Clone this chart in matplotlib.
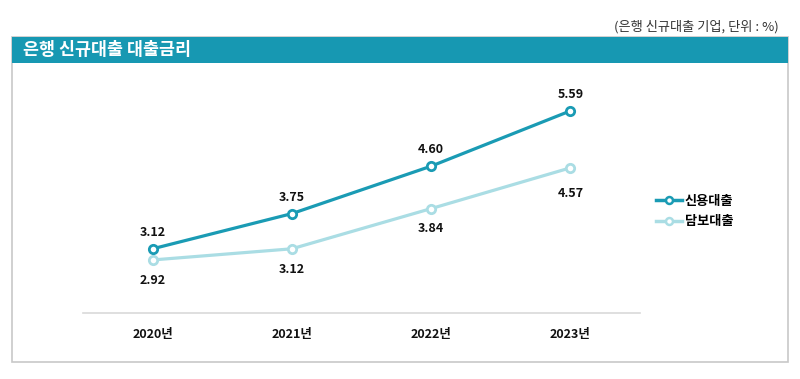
import matplotlib.pyplot as plt
from matplotlib.patches import Rectangle
from matplotlib.lines import Line2D

plt.rcParams['font.family'] = ['Noto Sans CJK KR', 'DejaVu Sans']

years = ['2020년', '2021년', '2022년', '2023년']
credit = [3.12, 3.75, 4.60, 5.59]
secured = [2.92, 3.12, 3.84, 4.57]
names = ['신용대출', '담보대출']

dark = '#1a9bb4'
light = '#aadde4'

fig = plt.figure(figsize=(8, 3.79), dpi=100)
W, H = 800, 379

def fx(px):
    return px / W

def fy(py):
    return 1 - py / H

# outer frame
fig.patches.append(Rectangle((fx(12), fy(362)), fx(788) - fx(12), fy(37) - fy(362),
                             transform=fig.transFigure, fill=False, edgecolor='#c8c8c8', lw=1.2))
# header bar
fig.patches.append(Rectangle((fx(12), fy(63)), fx(788) - fx(12), fy(37) - fy(63),
                             transform=fig.transFigure, facecolor='#1798b2', edgecolor='none'))
fig.text(fx(23), fy(50), '은행 신규대출 대출금리', color='white', fontsize=12.5,
         fontweight='bold', va='center', ha='left')
fig.text(fx(779), fy(27), '(은행 신규대출 기업, 단위 : %)', color='#333333', fontsize=9.5,
         va='center', ha='right')

ax = fig.add_axes([fx(83), fy(313), fx(640) - fx(83), fy(88) - fy(313)])
x = range(len(years))
ax.plot(x, secured, color=light, lw=2.3, marker='o', ms=6, mfc='white', mec=light, mew=2)
ax.plot(x, credit, color=dark, lw=2.3, marker='o', ms=6, mfc='white', mec=dark, mew=2)

for i, v in enumerate(credit):
    ax.annotate(f'{v:.2f}', (i, v), xytext=(0, 7), textcoords='offset points',
                ha='center', va='bottom', fontsize=9, fontweight='bold', color='#111111')
for i, v in enumerate(secured):
    off = -14 if i == len(secured) - 1 else -10
    ax.annotate(f'{v:.2f}', (i, v), xytext=(0, off), textcoords='offset points',
                ha='center', va='top', fontsize=9, fontweight='bold', color='#111111')

ax.set_xlim(-0.5, 3.5)
ax.set_ylim(1.97, 6)
ax.set_xticks(list(x))
ax.set_xticklabels(years, fontsize=9, fontweight='bold', color='#111111')
ax.tick_params(axis='x', length=0, pad=11)
ax.set_yticks([])
for s in ['top', 'left', 'right']:
    ax.spines[s].set_visible(False)
ax.spines['bottom'].set_color('#d9d9d9')
ax.spines['bottom'].set_linewidth(1.2)

handles = [Line2D([], [], color=dark, lw=2.5, marker='o', ms=5, mfc='white', mec=dark, mew=1.8),
           Line2D([], [], color=light, lw=2.5, marker='o', ms=5, mfc='white', mec=light, mew=1.8)]
fig.legend(handles, names, loc='center left', bbox_to_anchor=(fx(644), fy(211)),
           frameon=False, prop={'weight': 'bold', 'size': 9.5},
           handlelength=2.0, handletextpad=0.2, labelspacing=0.5)

fig.savefig('out.png', dpi=100)
